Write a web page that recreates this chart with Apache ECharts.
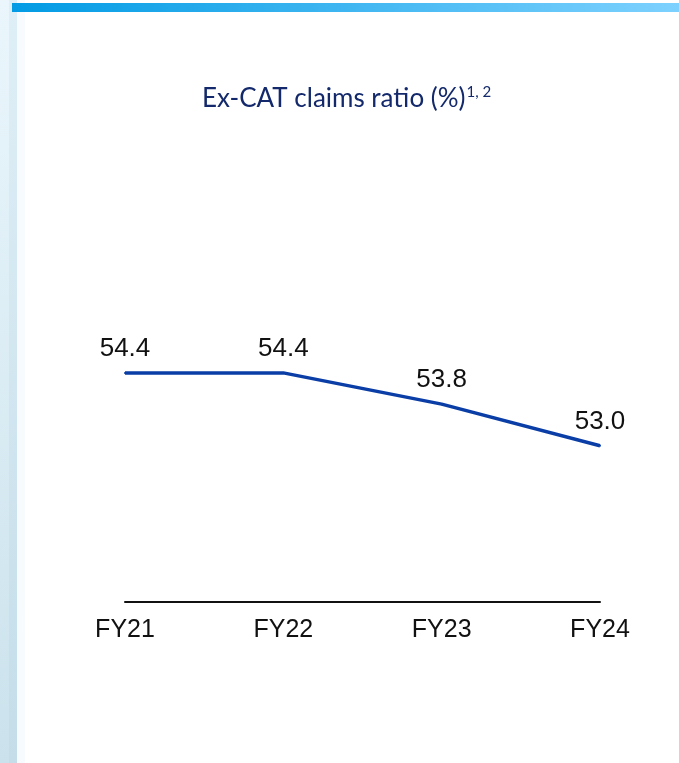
<!DOCTYPE html>
<html>
<head>
<meta charset="utf-8">
<script src="https://cdn.jsdelivr.net/npm/echarts@6/dist/echarts.min.js"></script>
<style>
  html, body { margin: 0; padding: 0; background: #ffffff; }
  #main { width: 679px; height: 763px; }
</style>
</head>
<body>
<div id="main"></div>
<script>
"use strict";

const categories = ["FY21", "FY22", "FY23", "FY24"];
const claimsRatio = [54.4, 54.4, 53.8, 53.0];

let chartDom = document.getElementById("main");
let myChart = echarts.init(chartDom);

let option = {
  backgroundColor: "#ffffff",
  animation: false,
  graphic: [
    {
      type: "rect",
      shape: { x: 0, y: 0, width: 17, height: 763 },
      style: {
        fill: new echarts.graphic.LinearGradient(0, 0, 0, 1, [
          { offset: 0, color: "#eaf6fc" },
          { offset: 1, color: "#cbe2ec" },
        ]),
      },
      silent: true,
    },
    {
      type: "rect",
      shape: { x: 9, y: 0, width: 8, height: 763 },
      style: { fill: "rgba(150,190,210,0.12)" },
      silent: true,
    },
    {
      type: "rect",
      shape: { x: 17, y: 0, width: 8, height: 763 },
      style: { fill: "#f8fbfd" },
      silent: true,
    },
    {
      type: "rect",
      shape: { x: 12, y: 3, width: 667, height: 9 },
      style: {
        fill: new echarts.graphic.LinearGradient(0, 0, 1, 0, [
          { offset: 0, color: "#029be4" },
          { offset: 1, color: "#7dd1fe" },
        ]),
      },
      silent: true,
    },
  ],
  title: {
    text: "{a|Ex-CAT claims ratio (%)}{s|1, 2}",
    left: 197,
    top: 80,
    textStyle: {
      rich: {
        a: {
          fontFamily: "Lato",
          fontSize: 26,
          fontWeight: "normal",
          color: "#13296b",
        },
        s: {
          fontFamily: "Lato",
          fontSize: 15,
          fontWeight: "normal",
          color: "#13296b",
          padding: [0, 0, 12, 1],
        },
      },
    },
  },
  grid: {
    left: 125,
    right: 79,
    top: 289.6,
    bottom: 161,
    containLabel: false,
  },
  xAxis: {
    type: "category",
    boundaryGap: false,
    data: categories,
    axisLine: { show: true, lineStyle: { color: "#111111", width: 2 } },
    axisTick: { show: false },
    axisLabel: {
      margin: 16,
      fontFamily: "Liberation Sans",
      fontSize: 25,
      color: "#111111",
    },
    splitLine: { show: false },
  },
  yAxis: {
    type: "value",
    min: 50,
    max: 56,
    show: false,
  },
  series: [
    {
      name: "Ex-CAT claims ratio",
      type: "line",
      data: claimsRatio,
      symbol: "circle",
      symbolSize: 2,
      showSymbol: true,
      itemStyle: { color: "#0a3ea6" },
      lineStyle: { width: 3.5, color: "#0a3ea6" },
      label: {
        show: true,
        position: "top",
        distance: 10,
        fontFamily: "Liberation Sans",
        fontSize: 26,
        color: "#111111",
        formatter: (p) => p.value.toFixed(1),
      },
    },
  ],
};

option && myChart.setOption(option);
</script>
</body>
</html>
